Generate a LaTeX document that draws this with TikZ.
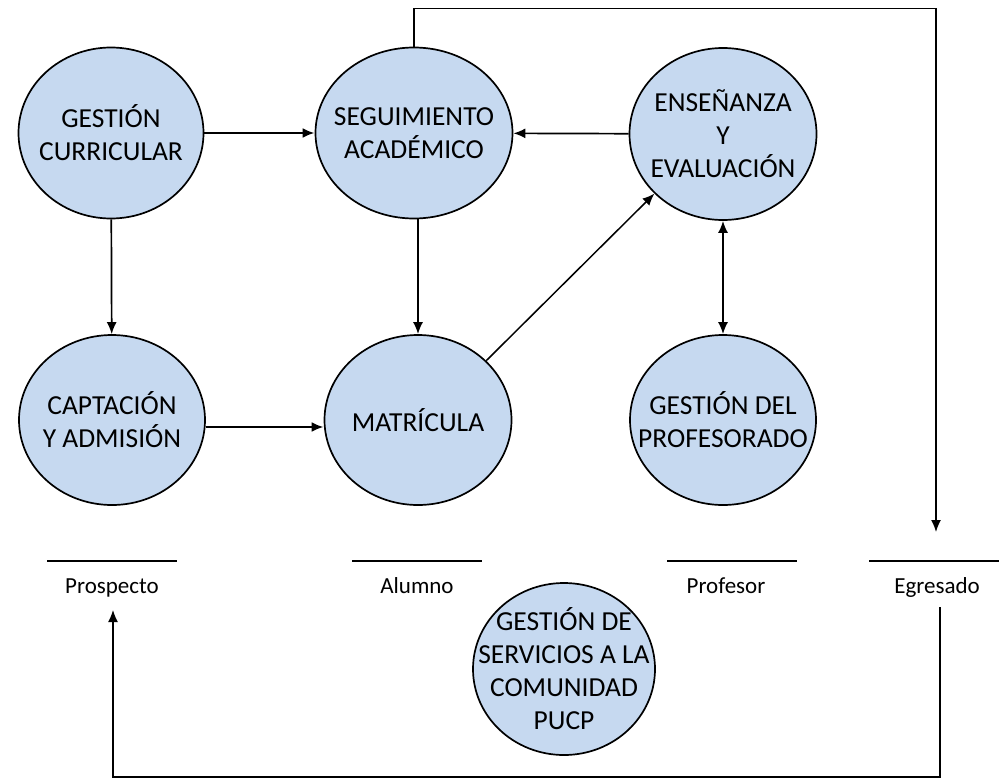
\documentclass[tikz,border=0pt]{standalone}
\usepackage{fontspec}
\setmainfont{Carlito}
\usetikzlibrary{shapes.geometric, arrows.meta}
\definecolor{procfill}{RGB}{198,217,240}
\tikzset{
	proc/.style={ellipse, draw=black, line width=1.7pt, fill=procfill, inner sep=0pt},
	proctext/.style={align=center, inner sep=0pt, font=\fontsize{27.5pt}{33pt}\selectfont},
	flow/.style={line width=1.7pt, -{Latex[length=12pt,width=10pt]}},
	bigflow/.style={flow, line width=2.6pt},
	loopline/.style={line width=1.4pt, -{Latex[length=12pt,width=10pt]}},
	storebar/.style={line width=2pt},
	storelabel/.style={anchor=base, font=\fontsize{23pt}{28pt}\selectfont}
}

\begin{document}
\begin{tikzpicture}[x=1pt, y=-1pt]
	\useasboundingbox (0,0) rectangle (1003,779);
	\node[proc, minimum width=185pt, minimum height=171pt, label={[proctext]center:GESTIÓN\\CURRICULAR}] (gc) at (111,133) {};
	\node[proc, minimum width=197pt, minimum height=171pt, label={[proctext]center:SEGUIMIENTO\\ACADÉMICO}] (sa) at (414,133) {};
	\node[proc, minimum width=187pt, minimum height=172pt, label={[proctext]center:ENSEÑANZA\\Y\\EVALUACIÓN}] (ee) at (723,134) {};
	\node[proc, minimum width=186pt, minimum height=170pt, label={[proctext]center:CAPTACIÓN\\Y ADMISIÓN}] (ca) at (112,420) {};
	\node[proc, minimum width=187pt, minimum height=170pt, label={[proctext]center:MATRÍCULA}] (mat) at (418,420) {};
	\node[proc, minimum width=186pt, minimum height=170pt, label={[proctext]center:GESTIÓN DEL\\PROFESORADO}] (gp) at (723,420) {};
	\node[proc, minimum width=182pt, minimum height=172pt, label={[proctext]center:GESTIÓN DE\\SERVICIOS A LA\\COMUNIDAD\\PUCP}] (gs) at (564,669) {};

	% almacenes
	\foreach \x in {112, 417, 732, 934}{
		\draw[storebar] (\x-65,561) -- (\x+65,561);
	}
	\node[storelabel] (pros) at (112,593) {Prospecto};
	\node[storelabel] (alum) at (417,593) {Alumno};
	\node[storelabel] (prof) at (726,593) {Profesor};
	\node[storelabel] (egr) at (937,593) {Egresado};

	\draw[bigflow] (gc) -- (sa);
	\draw[flow] (ee) -- (sa);
	\draw[flow] (gc) -- (ca);
	\draw[flow] (sa.south -| mat.north) -- (mat);
	\draw[bigflow] ([yshift=-7pt]ca.east) -- ([yshift=-7pt]mat.west);
	\draw[flow, line width=1.5pt] (mat.41) -- (ee.221);
	\draw[flow, {Latex[length=12pt,width=10pt]}-{Latex[length=12pt,width=10pt]}] (ee) -- (gp);

	\coordinate (egrin) at (936,532);
	\coordinate (egrout) at (940,607);
	\coordinate (prosin) at (113,610);
	\draw[loopline] (sa.north) -- ++(0,-38) -| (egrin);
	\draw[loopline] (egrout) -- ++(0,170) -| (prosin);
\end{tikzpicture}
\end{document}
